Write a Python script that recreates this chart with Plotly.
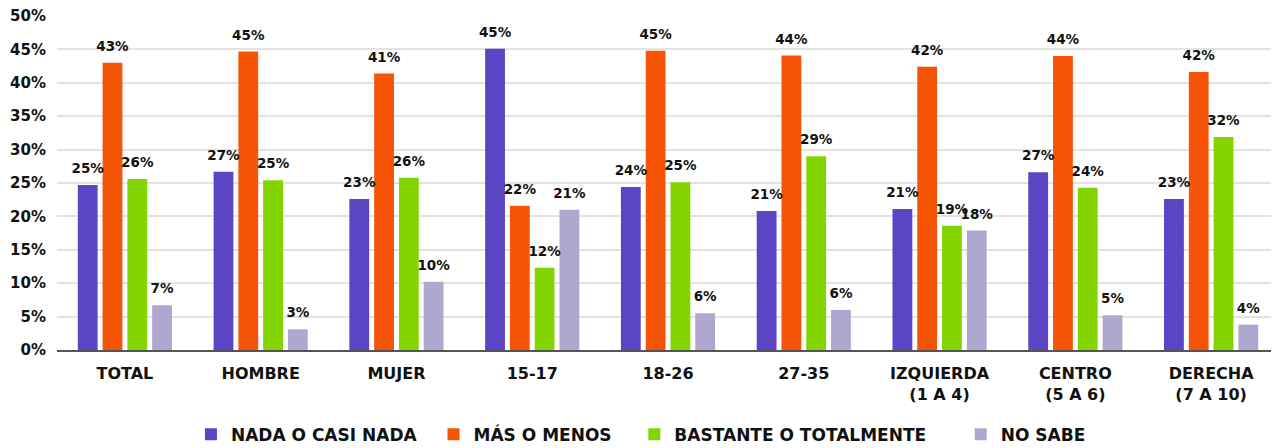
import plotly.graph_objects as go

categories = ["TOTAL", "HOMBRE", "MUJER", "15-17", "18-26", "27-35",
              "IZQUIERDA<br>(1 A 4)", "CENTRO<br>(5 A 6)", "DERECHA<br>(7 A 10)"]

nada = [24.7, 26.7, 22.6, 45.1, 24.4, 20.8, 21.1, 26.6, 22.6]
mas_menos = [43.0, 44.7, 41.4, 21.6, 44.8, 44.1, 42.4, 44.0, 41.6]
bastante = [25.6, 25.4, 25.8, 12.3, 25.1, 29.0, 18.6, 24.3, 31.9]
no_sabe = [6.7, 3.1, 10.2, 21.0, 5.5, 6.0, 17.9, 5.2, 3.8]

series = [
    ("NADA O CASI NADA", nada, "#5b45c4"),
    ("MÁS O MENOS", mas_menos, "#f65407"),
    ("BASTANTE O TOTALMENTE", bastante, "#84d402"),
    ("NO SABE", no_sabe, "#aea8d1"),
]

FONT = "DejaVu Sans"
NB = "\u00a0"
legend_pad = [2, 3, 5, 0]

fig = go.Figure()
for i, (name, vals, color) in enumerate(series):
    fig.add_trace(go.Bar(
        x=categories, y=vals, name=name + NB * legend_pad[i],
        offsetgroup=str(i), alignmentgroup="a",
        marker=dict(color=color, line=dict(width=0)),
    ))
for i, (name, vals, color) in enumerate(series):
    fig.add_trace(go.Scatter(
        x=categories, y=vals, mode="markers+text",
        offsetgroup=str(i), alignmentgroup="a",
        text=[f"{round(v):d}%" for v in vals],
        textposition="top center",
        marker=dict(size=12, opacity=0, color=color),
        cliponaxis=False, showlegend=False, hoverinfo="skip",
        textfont=dict(family=FONT, size=13.5, color="#111111", weight=700),
    ))

fig.update_layout(
    width=1271, height=440,
    margin=dict(l=49, r=0, t=8, b=98),
    paper_bgcolor="white", plot_bgcolor="white",
    barmode="group", bargap=0.27, bargroupgap=0.2,
    scattermode="group",
    font=dict(family=FONT, color="#111111"),
    showlegend=True,
    legend=dict(orientation="h", xref="container", x=0.498, xanchor="center",
                yref="container", y=0.03, yanchor="middle",
                font=dict(family=FONT, size=17, color="#111111", weight=700),
                itemsizing="constant"),
    xaxis=dict(tickfont=dict(family=FONT, size=16, weight=700), showgrid=False,
               showline=True, linecolor="#555555", linewidth=2, ticks="",
               automargin=False, ticklabelstandoff=8),
    yaxis=dict(range=[0, 50], dtick=5, ticksuffix="%",
               tickfont=dict(family=FONT, size=15, weight=700),
               showgrid=True, gridcolor="#e3e3e3", gridwidth=2,
               zeroline=False, showline=False, ticks="", ticklabelstandoff=10,
               ticklabeloverflow="allow", automargin=False),
)

fig.write_html("out.html")
